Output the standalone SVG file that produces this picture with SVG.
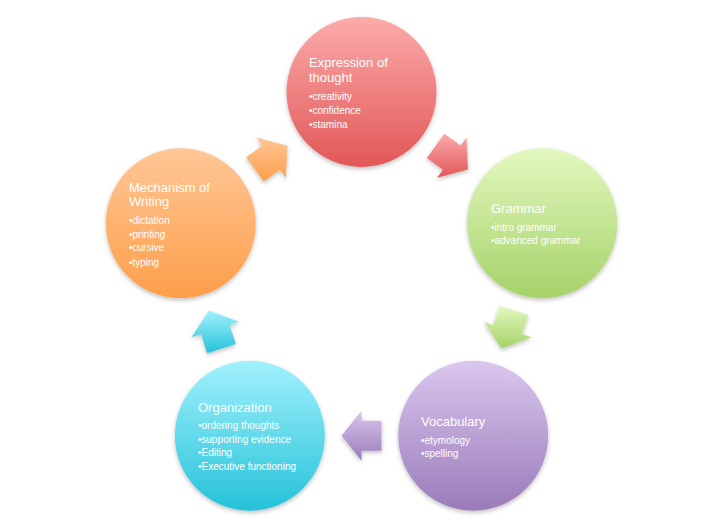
<svg xmlns="http://www.w3.org/2000/svg" width="724" height="524" viewBox="0 0 724 524">
<defs>
<linearGradient id="gRed" x1="0" y1="0" x2="0" y2="1"><stop offset="0" stop-color="#fcabab"/><stop offset="1" stop-color="#e25757"/></linearGradient>
<linearGradient id="gGreen" x1="0" y1="0" x2="0" y2="1"><stop offset="0" stop-color="#e3f8bf"/><stop offset="1" stop-color="#a5d268"/></linearGradient>
<linearGradient id="gPurple" x1="0" y1="0" x2="0" y2="1"><stop offset="0" stop-color="#dac7ee"/><stop offset="1" stop-color="#9a7bba"/></linearGradient>
<linearGradient id="gCyan" x1="0" y1="0" x2="0" y2="1"><stop offset="0" stop-color="#a2f1fd"/><stop offset="1" stop-color="#25c2d9"/></linearGradient>
<linearGradient id="gOrange" x1="0" y1="0" x2="0" y2="1"><stop offset="0" stop-color="#ffc796"/><stop offset="1" stop-color="#fd9e4a"/></linearGradient>
<filter id="sh" x="-20%" y="-20%" width="140%" height="150%"><feDropShadow dx="0" dy="2" stdDeviation="2" flood-color="#000" flood-opacity="0.25"/></filter>
</defs>
<style>
.t{font-family:"Liberation Sans",Arial,sans-serif;font-size:13px;fill:#fff}
.b{font-family:"Liberation Sans",Arial,sans-serif;font-size:10px;fill:#fff}
</style>
<rect width="724" height="524" fill="#fff"/>
<g id="connectors" filter="url(#sh)">
<polygon points="468,169.4 466.5,137.4 460.6,145.5 444.4,133.7 426.8,158 443,169.7 437.1,177.8" fill="url(#gRed)"/>
<polygon points="501.5,348.5 531.5,337.2 522,334.1 528.2,315.1 499.6,305.8 493.4,324.9 483.9,321.8" fill="url(#gGreen)"/>
<polygon points="341.5,435.7 361.5,460.7 361.5,450.7 381.5,450.7 381.5,420.7 361.5,420.7 361.5,410.7" fill="url(#gPurple)"/>
<polygon points="209.1,310.5 191.5,337.2 201,334.1 207.2,353.2 235.8,343.9 229.6,324.9 239.1,321.8" fill="url(#gCyan)"/>
<polygon points="287.4,145.8 256.5,137.4 262.4,145.5 246.2,157.2 263.8,181.5 280,169.7 285.9,177.8" fill="url(#gOrange)"/>
</g>
<g id="expression">
<circle cx="361.5" cy="92" r="75" fill="url(#gRed)" filter="url(#sh)"/>
<text class="t" x="309" y="67">Expression of</text>
<text class="t" x="309" y="82">thought</text>
<text class="b" x="309" y="100">•creativity</text>
<text class="b" x="309" y="114">•confidence</text>
<text class="b" x="309" y="128">•stamina</text>
</g>
<g id="grammar">
<circle cx="542.2" cy="223.3" r="75" fill="url(#gGreen)" filter="url(#sh)"/>
<text class="t" x="491" y="213">Grammar</text>
<text class="b" x="491" y="231">•intro grammar</text>
<text class="b" x="491" y="244">•advanced grammar</text>
</g>
<g id="vocabulary">
<circle cx="473.2" cy="435.7" r="75" fill="url(#gPurple)" filter="url(#sh)"/>
<text class="t" x="421" y="426">Vocabulary</text>
<text class="b" x="421" y="444">•etymology</text>
<text class="b" x="421" y="457">•spelling</text>
</g>
<g id="organization">
<circle cx="249.8" cy="435.7" r="75" fill="url(#gCyan)" filter="url(#sh)"/>
<text class="t" x="198" y="412">Organization</text>
<text class="b" x="198" y="429">•ordering thoughts</text>
<text class="b" x="198" y="443">•supporting evidence</text>
<text class="b" x="198" y="456">•Editing</text>
<text class="b" x="198" y="470">•Executive functioning</text>
</g>
<g id="mechanism">
<circle cx="180.8" cy="223.3" r="75" fill="url(#gOrange)" filter="url(#sh)"/>
<text class="t" x="129" y="192">Mechanism of</text>
<text class="t" x="129" y="206">Writing</text>
<text class="b" x="129" y="224">•dictation</text>
<text class="b" x="129" y="238">•printing</text>
<text class="b" x="129" y="251">•cursive</text>
<text class="b" x="129" y="266">•typing</text>
</g>
</svg>
